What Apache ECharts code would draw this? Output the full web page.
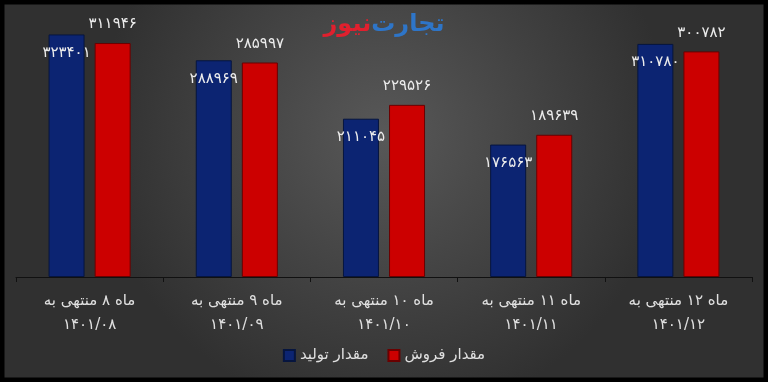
<!DOCTYPE html>
<html>
<head>
<meta charset="utf-8">
<style>
html,body{margin:0;padding:0;background:#000;}
#c{width:768px;height:382px;}
</style>
<script src="https://cdn.jsdelivr.net/npm/echarts@6/dist/echarts.min.js"></script>
</head>
<body>
<div id="c"></div>
<script>
const categories = [
  'ماه ۸ منتهی به\n۱۴۰۱/۰۸',
  'ماه ۹ منتهی به\n۱۴۰۱/۰۹',
  'ماه ۱۰ منتهی به\n۱۴۰۱/۱۰',
  'ماه ۱۱ منتهی به\n۱۴۰۱/۱۱',
  'ماه ۱۲ منتهی به\n۱۴۰۱/۱۲'
];
const productionName = 'مقدار تولید';
const salesName = 'مقدار فروش';
const production = [323401, 288969, 211045, 176563, 310780];
const sales = [311946, 285997, 229526, 189639, 300782];

const FONT = 'DejaVu Sans';
const toFa = v => String(v).replace(/[0-9]/g, d => '۰۱۲۳۴۵۶۷۸۹'[+d]);

const chart = echarts.init(document.getElementById('c'));
chart.setOption({
  backgroundColor: {
    type: 'radial', x: 0.5, y: 0.35, r: 0.75,
    colorStops: [{offset: 0, color: '#585858'}, {offset: 1, color: '#303030'}]
  },
  animation: false,
  title: {
    text: '{r|نیوز}{b|تجارت}',
    left: 'center', top: 8,
    textStyle: {
      rich: {
        r: {color: '#e0202e', fontSize: 24, fontWeight: 'bold', fontFamily: FONT},
        b: {color: '#2e75c8', fontSize: 24, fontWeight: 'bold', fontFamily: FONT}
      }
    }
  },
  legend: {
    bottom: 14, left: 'center',
    itemWidth: 11, itemHeight: 11, itemGap: 19,
    icon: 'rect',
    textStyle: {color: '#e0e0e0', fontSize: 15, fontFamily: FONT},
    data: [productionName, salesName]
  },
  grid: {left: 16, right: 16, top: 14.5, bottom: 105, containLabel: false},
  xAxis: {
    type: 'category',
    data: categories,
    axisLine: {lineStyle: {color: '#111', width: 1}},
    axisTick: {show: true, length: 5, lineStyle: {color: '#111'}},
    axisLabel: {color: '#e0e0e0', fontSize: 15, lineHeight: 24, margin: 12, fontFamily: FONT, interval: 0}
  },
  yAxis: {type: 'value', min: 0, max: 350000, show: false, splitLine: {show: false}},
  series: [
    {
      name: productionName, type: 'bar', data: production,
      barWidth: 36, barGap: '28%',
      itemStyle: {color: '#0c2472', borderColor: '#06153f', borderWidth: 1},
      label: {show: true, position: 'insideTop', distance: 11, color: '#ececec', fontSize: 15, fontFamily: FONT,
        formatter: p => toFa(p.value)}
    },
    {
      name: salesName, type: 'bar', data: sales,
      barWidth: 36,
      itemStyle: {color: '#cc0000', borderColor: '#6a0000', borderWidth: 1},
      label: {show: true, position: 'top', distance: 11, color: '#ececec', fontSize: 15, fontFamily: FONT,
        formatter: p => toFa(p.value)}
    }
  ],
  graphic: [{
    type: 'rect', z: 100, silent: true,
    shape: {x: 0, y: 0, width: 768, height: 382},
    style: {fill: 'none', stroke: '#000', lineWidth: 9}
  }]
});
</script>
</body>
</html>
